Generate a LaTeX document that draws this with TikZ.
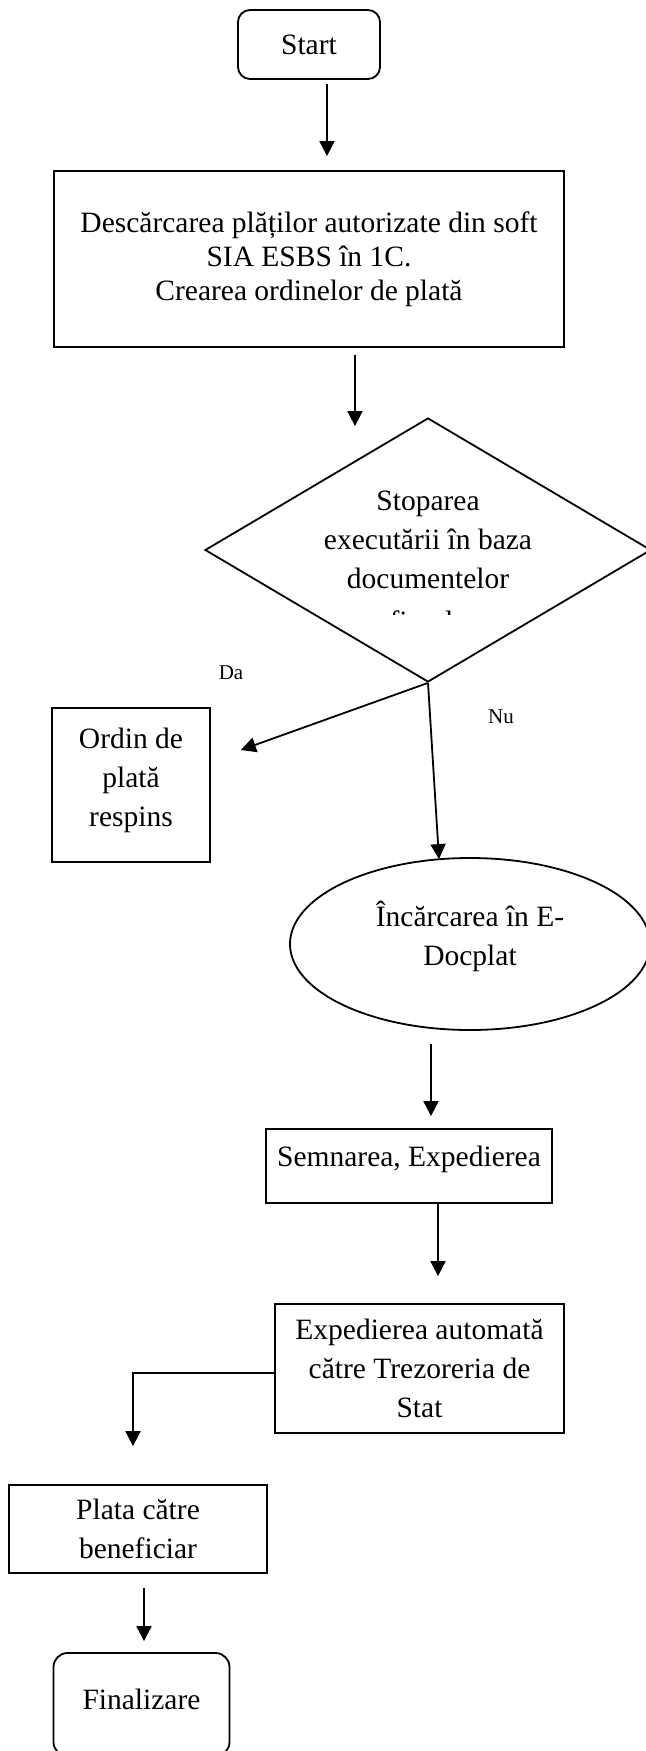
\documentclass[tikz,border=0pt]{standalone}
\usepackage{fontspec}
\setmainfont{Liberation Serif}
\usetikzlibrary{shapes.geometric,arrows.meta}

\begin{document}
\begin{tikzpicture}[x=0.5pt,y=-0.5pt,line width=0.9pt,
  font=\fontsize{14.75}{19.5}\selectfont,
  box/.style={draw,align=center,inner sep=0pt},
  arr/.style={-{Triangle[length=7.5pt,width=7.5pt]}},
  lab/.style={font=\fontsize{10.5}{12}\selectfont}]

\useasboundingbox (0,0) rectangle (646,1751);

\begin{scope}
\node[box,rounded corners=6pt,minimum width=71pt,minimum height=34.5pt] (st) at (309,44.5) {Start};
\node[box,minimum width=255pt,minimum height=88pt,font=\fontsize{14.75}{17}\selectfont] (desc) at (309,259)
  {Descărcarea plăților autorizate din soft\\SIA ESBS în 1C.\\Crearea ordinelor de plată};
\node[box,diamond,aspect=1.7,minimum width=223pt,minimum height=132pt,text height=45pt,text depth=7pt] (stop) at (428,550)
  {Stoparea\\executării în baza\\documentelor};
\node[box,minimum width=79pt,minimum height=77pt,text height=45pt,text depth=4pt] (resp) at (131,785)
  {Ordin de\\plată\\respins};
\node[box,ellipse,minimum width=180pt,minimum height=86pt,text height=30pt,text depth=9pt] (inc) at (470,944)
  {Încărcarea în E-\\Docplat};
\node[box,minimum width=143pt,minimum height=37pt,text height=17pt,text depth=17pt] (semn) at (409,1166)
  {Semnarea, Expedierea};
\node[box,minimum width=144.5pt,minimum height=64.5pt] (exp) at (419.5,1368.5)
  {Expedierea automată\\către Trezoreria de\\Stat};
\node[box,minimum width=129pt,minimum height=44pt] (plata) at (138,1529) {Plata către\\beneficiar};
\node[box,rounded corners=7pt,minimum width=88pt,minimum height=51.5pt,text height=20pt,text depth=15.5pt] (fin) at (141.5,1704.5)
  {Finalizare};

% last line of the decision, cut by its box
\begin{scope}
\clip (300,600) rectangle (560,614.5);
\node[anchor=base] (stopcut) at (428,631) {fiscale};
\end{scope}

\node[lab] (da) at (231,673) {Da};
\node[lab] (nu) at (501,717) {Nu};

\coordinate (s1) at ([xshift=9pt,yshift=-2pt]st.south);
\coordinate (s2) at ([xshift=23pt,yshift=-3.5pt]desc.south);
\coordinate (daend) at ([xshift=15pt,yshift=17.5pt]resp.east);
\coordinate (nuend) at ([xshift=-15.5pt,yshift=-1pt]inc.north);
\coordinate (s3) at ([xshift=-19.5pt,yshift=-6.5pt]inc.south);
\coordinate (s4) at ([xshift=14.5pt]semn.south);
\coordinate (s5) at ([xshift=3pt,yshift=-7pt]plata.south);

\draw[arr,shorten >=7pt] (s1) -- (s1 |- desc.north);
\draw[arr,shorten >=-4.5pt] (s2) -- (s2 |- stop.north);
\draw[arr] (stop.south) -- (daend);
\draw[arr] (stop.south) -- (nuend);
\draw[arr,shorten >=6pt] (s3) -- (s3 |- semn.north);
\draw[arr,shorten >=13.5pt] (s4) -- (s4 |- exp.north);
\draw[arr,shorten >=19pt] ([yshift=-2.25pt]exp.west) -| ([xshift=-2.5pt]plata.north);
\draw[arr,shorten >=5.5pt] (s5) -- (s5 |- fin.north);
\end{scope}

\end{tikzpicture}
\end{document}
